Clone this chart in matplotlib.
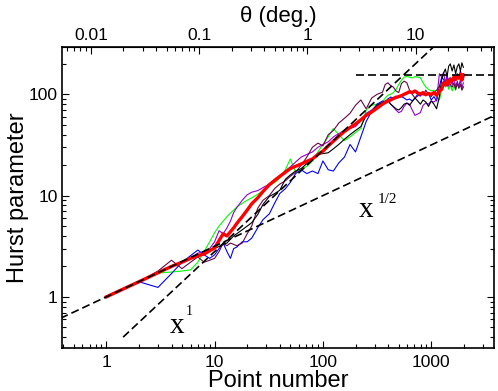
import matplotlib.pyplot as plt
import numpy as np
from matplotlib import ticker

plt.rcParams['font.family'] = ['Liberation Sans', 'DejaVu Sans']

xs = [1, 2, 3, 4, 5, 6, 7, 8, 9, 10, 11, 12, 13, 14, 15, 16,
      18, 20, 22, 25, 28, 32, 36, 40, 45, 50, 56, 63, 71, 80, 90, 100, 112, 125, 140, 158, 178, 200, 224, 251, 282, 316,
      355, 376, 398, 422, 447, 473, 501, 531, 562, 596, 631, 668, 708, 750, 794, 841, 891, 944, 1000,
      1060, 1120, 1190, 1250, 1300, 1350, 1400, 1450, 1500, 1560, 1620, 1680, 1740, 1800, 1860, 1920, 1980]

h_mean = [1.0, 1.41, 1.73, 2.0, 2.2, 2.4, 2.55, 2.65, 2.85, 3.05, 3.6, 4.2, 4.0, 4.4, 4.8, 5.3,
          6.2, 7.2, 8.3, 9.5, 11, 12.8, 14.2, 15.5, 17, 18.5, 19.5, 20.5, 21.8, 23, 25.5, 27.5, 31, 34.5, 38.5, 43, 47, 51, 56, 62, 67, 73,
          80, 83, 86, 88, 91, 93, 95, 97, 100, 103, 106, 104, 108, 103, 101, 104, 99, 102, 100,
          104, 98, 108, 112, 130, 124, 135, 128, 142, 136, 148, 140, 152, 144, 158, 138, 155]

h_black = [1.0, 1.41, 1.72, 2.0, 2.2, 2.4, 2.55, 2.7, 2.85, 3.0, 3.15, 3.3, 3.4, 3.7, 4.0, 4.2,
           4.6, 5.0, 5.4, 6.5, 8.2, 9.8, 10.5, 11.3, 14.5, 16, 17.5, 18.5, 20.7, 23, 25.5, 26, 26.5, 29, 32, 36, 40, 44, 48, 62, 68, 78,
           83, 86, 88, 80, 76, 72, 70, 74, 80, 82, 78, 85, 92, 86, 80, 88, 84, 76, 86,
           80, 72, 95, 140, 162, 178, 150, 190, 200, 170, 195, 160, 188, 200, 170, 205, 185]

h_blue = [1.0, 1.41, 1.24, 1.7, 2.2, 2.55, 2.9, 2.6, 2.4, 2.6, 3.0, 3.4, 2.8, 2.4, 3.0, 3.1,
          3.5, 3.5, 3.8, 4.8, 5.8, 6.6, 8.5, 10.5, 11.7, 13.5, 16.5, 18, 16.5, 17.5, 16.5, 22, 18, 17.5, 21, 24, 32, 27, 38, 54, 68, 80,
          86, 84, 90, 94, 92, 96, 93, 95, 92, 88, 90, 86, 92, 100, 96, 104, 98, 102, 88,
          95, 86, 120, 148, 140, 132, 150, 138, 145, 130, 155, 140, 160, 145, 170, 150, 160]

h_green = [1.0, 1.41, 1.72, 1.76, 1.8, 1.85, 2.2, 2.8, 3.5, 4.3, 5.0, 5.6, 6.2, 6.7, 7.2, 7.7,
           8.4, 9.0, 9.5, 10.3, 11.2, 12.5, 13.5, 14.8, 18, 23, 17, 18, 19.5, 22, 27, 32, 38, 46, 40, 35, 38, 42, 46, 70, 78, 80,
           84, 92, 98, 100, 104, 112, 125, 138, 148, 150, 148, 145, 150, 148, 146, 130, 118, 112, 108,
           110, 95, 88, 110, 128, 118, 130, 112, 125, 108, 122, 110, 128, 115, 135, 112, 120]

h_violet = [1.0, 1.41, 1.73, 2.0, 2.2, 2.4, 2.7, 2.8, 3.0, 3.5, 4.5, 4.2, 4.8, 5.6, 6.8, 7.6,
            9.0, 10.2, 10.8, 11.2, 12, 13, 14, 15.5, 17.5, 19.2, 21.5, 24, 25.5, 27, 30, 32, 34, 38, 41, 44, 46, 48, 55, 65, 70, 78,
            82, 84, 86, 80, 75, 70, 66, 68, 76, 82, 80, 70, 62, 64, 66, 78, 82, 80, 86,
            84, 88, 160, 148, 165, 130, 150, 120, 140, 125, 150, 118, 135, 120, 140, 115, 130]

h_maroon = [1.0, 1.41, 1.8, 2.3, 1.9, 2.2, 2.48, 2.2, 2.3, 2.4, 2.8, 3.4, 3.2, 3.4, 3.3, 3.2,
            3.4, 4.2, 5.0, 7.5, 9.0, 10, 11.8, 13, 14, 15.5, 17, 20, 24, 30, 33, 31, 40, 44, 52, 58, 65, 78, 88, 72, 92, 100,
            105, 125, 130, 122, 118, 108, 104, 128, 135, 130, 110, 100, 92, 96, 104, 98, 110, 100, 95,
            104, 110, 120, 115, 135, 128, 120, 140, 125, 118, 130, 112, 128, 115, 125, 110, 118]

thin = [(h_green, '#00ff00'), (h_blue, '#0000ff'), (h_violet, '#9400d3'),
        (h_maroon, '#670748'), (h_black, 'black')]

deg_per_point = 1 / 72.0
plateau = 155
theta_ticks = [0.01, 0.1, 1, 10]
theta_minor = [m * d for d in [0.001, 0.01, 0.1, 1, 10] for m in range(2, 10)]

fig = plt.figure(figsize=(4.98, 3.91), dpi=100)
ax = fig.add_axes([0.1245, 0.109, 0.8675, 0.771])

for h, c in thin:
    ax.plot(xs, h, color=c, lw=0.8)
ax.plot(xs, h_mean, color='red', lw=2.4)

# guide lines
gx = np.array([0.3, 5000])
ax.plot(gx, np.sqrt(gx), color='black', lw=1.2, dashes=(4.8, 2.4))
gx1 = np.array([1.43, 1100])
ax.plot(gx1, 0.28 * gx1, color='black', lw=1.2, dashes=(4.8, 2.4))
ax.plot([200, 5000], [plateau, plateau], color='black', lw=1.2, dashes=(4.8, 2.4))

ax.text(0.25, 0.05, 'x', transform=ax.transAxes, family='Liberation Serif', fontsize=21)
ax.text(0.287, 0.11, '1', transform=ax.transAxes, family='Liberation Serif', fontsize=10)
ax.text(0.6875, 0.436, 'x', transform=ax.transAxes, family='Liberation Serif', fontsize=21)
ax.text(0.731, 0.482, '1/2', transform=ax.transAxes, family='Liberation Serif', fontsize=11)

ax.set_xscale('log')
ax.set_yscale('log')
ax.set_xlim(0.39, 3800)
ax.set_ylim(0.31, 294)

fmt = ticker.FuncFormatter(lambda v, p: '%g' % v)
ax.xaxis.set_major_formatter(fmt)
ax.yaxis.set_major_formatter(fmt)
ax.xaxis.set_minor_formatter(ticker.NullFormatter())
ax.yaxis.set_minor_formatter(ticker.NullFormatter())
ax.tick_params(which='both', direction='in', top=False, right=True, labelsize=12.5, width=0.8)
ax.tick_params(which='major', length=5)
ax.tick_params(which='minor', length=3)
ax.tick_params(axis='x', which='major', pad=5)
ax.tick_params(axis='y', which='major', pad=3)
for s in ax.spines.values():
    s.set_linewidth(1.2)

ax.set_xlabel('Point number', fontsize=17, labelpad=0)
ax.set_ylabel('Hurst parameter', fontsize=17, labelpad=0)

sec = ax.secondary_xaxis('top', functions=(lambda x: x * deg_per_point, lambda t: t / deg_per_point))
sec.xaxis.set_major_locator(ticker.FixedLocator(theta_ticks))
sec.xaxis.set_minor_locator(ticker.FixedLocator(theta_minor))
sec.xaxis.set_major_formatter(fmt)
sec.xaxis.set_minor_formatter(ticker.NullFormatter())
sec.tick_params(which='both', direction='in', labelsize=12.5, width=0.8)
sec.tick_params(which='major', length=5, pad=2.5)
sec.tick_params(which='minor', length=3)
sec.set_xlabel('θ (deg.)', fontsize=16, labelpad=5)

fig.savefig('out.png', dpi=100)
